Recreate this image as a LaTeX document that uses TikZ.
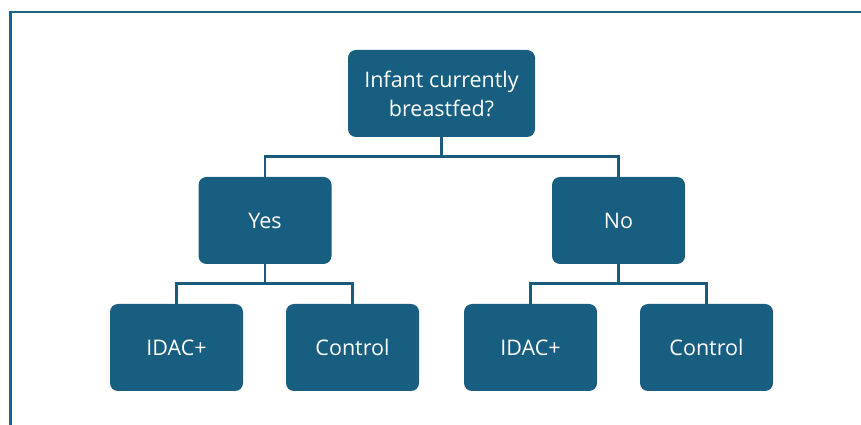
\documentclass[tikz,border=0pt]{standalone}
\usepackage{fontspec}
\setmainfont{Open Sans}
\definecolor{boxfill}{HTML}{175E80}
\definecolor{link}{HTML}{1A5A7A}
\definecolor{frame}{HTML}{1B6388}

\tikzset{
  decision/.style={rectangle, rounded corners=8pt, fill=boxfill, text=white,
    minimum height=87pt, inner sep=0pt, align=center, font=\fontsize{21.5}{29}\selectfont},
  branch/.style={decision, minimum width=133pt},
  arm/.style={decision, minimum width=133pt},
  link/.style={draw=link, line width=2.8pt}
}

\begin{document}
\begin{tikzpicture}[x=1pt, y=1pt]
  \useasboundingbox (0,0) rectangle (861,425);

  % Frame on the top and left edges
  \draw[frame, line width=2.5pt] (10.5,0) -- (10.5,413) -- (861,413);

  % Question
  \node[decision, minimum width=187pt] (root) at (441.5,331.5) {Infant currently\\breastfed?};

  % Answers
  \node[branch] (yes) at (265,204.5) {Yes};
  \node[branch] (no)  at (618.5,204.5) {No};

  % Allocation under each answer
  \foreach \name/\x/\label in {yesidac/176.5/IDAC+, yesctrl/352.5/Control,
                               noidac/530.5/IDAC+, noctrl/706.5/Control} {
    \node[arm] (\name) at (\x,77.5) {\label};
  }

  % Connectors
  \draw[link] (root.south) -- ++(0,-20);
  \draw[link] (yes.north) -- ++(0,20) -| (no.north);
  \draw[link] (yes.south) -- ++(0,-20);
  \draw[link] (yesidac.north) -- ++(0,20) -| (yesctrl.north);
  \draw[link] (no.south) -- ++(0,-20);
  \draw[link] (noidac.north) -- ++(0,20) -| (noctrl.north);
\end{tikzpicture}
\end{document}
